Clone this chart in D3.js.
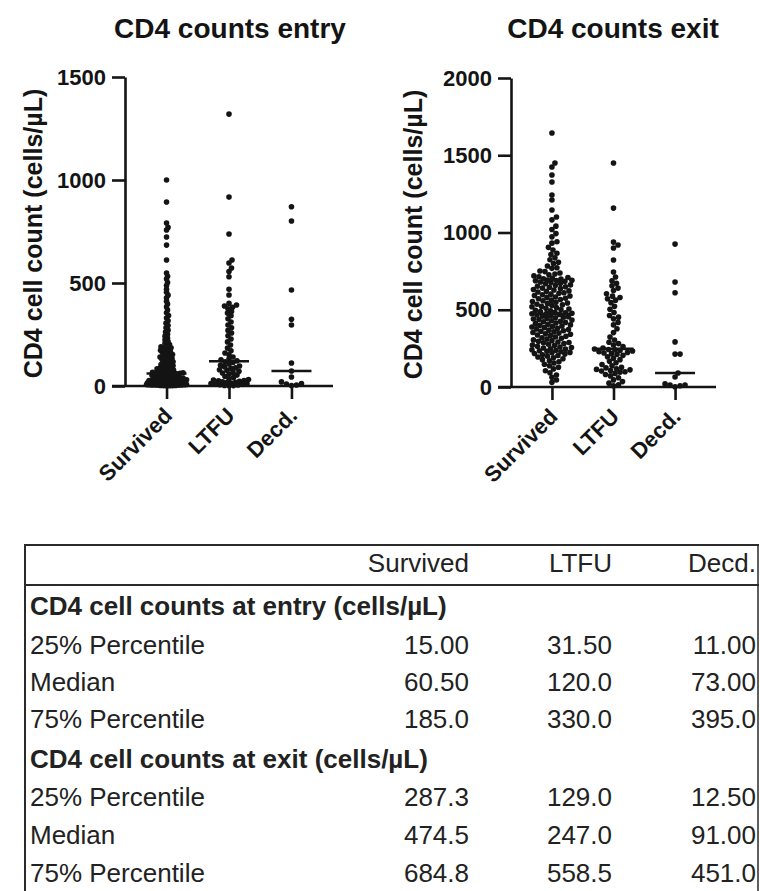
<!DOCTYPE html>
<html><head><meta charset="utf-8">
<script src="https://cdn.jsdelivr.net/npm/d3@7"></script>
<style>html,body{margin:0;padding:0;background:#fff;} svg{display:block;font-family:"Liberation Sans",Arial,Helvetica,sans-serif;}</style>
</head><body><svg id="c" width="760" height="891"></svg>
<script>
const categories = ["Survived", "LTFU", "Decd."];

const entrySurvived = [1000,893,791,770,757,723,684,612,548,533,519,502,488,470,455,441,428,412,398,384,369,355,342,330,317,305,294,283,271,262,251,242,233,224,216,208,201,195,190,186,
182,178,173,169,165,161,157,153,149,145,141,137,133,129,126,122,118,115,111,108,104,101,98,95,92,89,86,83,81,78,76,73,71,69,67,65,64,63,62,61,
60,58,57,55,54,52,51,49,48,46,45,43,42,40,39,38,36,35,34,32,31,30,29,28,27,26,25,24,23,22,21,20,19,19,18,17,17,16,16,15,
15,14,14,13,13,12,12,11,11,10,10,9,9,8,8,7,7,6,6,5,5,5,4,4,3,3,2,2,1,1];
const entryLTFU = [1320,917,738,612,597,573,556,530,470,442,401,393,388,382,375,362,354,341,
326,311,296,283,270,257,244,228,214,199,184,171,160,152,141,131,127,122,
118,114,107,101,97,94,88,86,79,77,71,66,63,58,53,46,41,35,
31,29,27,25,23,20,18,17,14,12,11,10,8,6,5,3,2,1];
const entryDecd = [870,801,466,324,296,112,73,44,20,12,10,5,2];

const exitSurvived = [1644,1450,1424,1372,1327,1243,1210,1146,1100,1082,1041,1019,993,972,940,931,904,887,866,858,836,824,807,799,783,772,768,751,747,738,731,726,719,714,709,703,701,698,693,691,689,688,
684,680,677,671,668,661,659,652,649,646,640,637,631,628,622,619,615,610,606,601,597,592,589,583,580,574,571,566,562,558,553,549,544,541,536,532,527,523,519,514,510,505,501,497,493,489,484,481,477,475,
474,470,466,463,459,455,451,448,444,440,437,433,429,425,422,418,414,410,406,402,399,395,391,388,384,380,376,372,368,364,361,357,353,349,345,341,337,333,328,324,319,315,310,305,300,296,291,288,
286,281,277,272,268,264,259,255,252,248,245,241,238,235,231,228,224,221,217,213,209,204,199,194,189,183,177,170,163,155,147,138,128,117,105,92,78,63,45,30];
const exitLTFU = [1450,1158,938,919,900,822,744,712,688,671,655,640,624,603,588,579,571,562,
546,522,503,482,463,452,441,418,402,377,352,323,304,290,281,272,262,252,
246,243,240,236,233,228,224,220,216,210,205,196,186,177,166,157,146,137,
128,124,118,114,111,106,103,99,96,88,81,72,60,46,35,25,15,8];
const exitDecd = [925,680,610,292,213,213,91,65,20,13,12,8,2];

const entryMedians = [60.5, 120, 73];
const exitMedians = [474.5, 247, 91];
const entryTicks = [0, 500, 1000, 1500];
const exitTicks = [0, 500, 1000, 1500, 2000];

const tableHeader = ["Survived", "LTFU", "Decd."];
const tableRowLabels = ["CD4 cell counts at entry (cells/\u00b5L)", "25% Percentile", "Median", "75% Percentile",
                        "CD4 cell counts at exit (cells/\u00b5L)", "25% Percentile", "Median", "75% Percentile"];
const entryQ1Text = ["15.00", "31.50", "11.00"];
const entryMedText = ["60.50", "120.0", "73.00"];
const entryQ3Text = ["185.0", "330.0", "395.0"];
const exitQ1Text = ["287.3", "129.0", "12.50"];
const exitMedText = ["474.5", "247.0", "91.00"];
const exitQ3Text = ["684.8", "558.5", "451.0"];

const svg = d3.select("#c");
const INK = "#141414";

function swarm(values, cx, y, d, maxW) {
  const pts = values.map(v => ({v, y: y(v)})).sort((a, b) => b.y - a.y);
  const placed = [];
  const cands = [0];
  for (let k = 0.5; k <= maxW; k += 0.5) { cands.push(k, -k); }
  for (const p of pts) {
    let chosen = null, bestX = 0, bestScore = -1;
    for (const off of cands) {
      let md = Infinity;
      for (const q of placed) {
        const dy = q.y - p.y; if (Math.abs(dy) >= d) continue;
        const dx = q.off - off;
        const dd = Math.sqrt(dx*dx + dy*dy);
        if (dd < md) md = dd;
      }
      if (md >= d) { chosen = off; break; }
      if (md > bestScore) { bestScore = md; bestX = off; }
    }
    p.off = chosen === null ? bestX : chosen;
    p.x = cx + p.off;
    placed.push(p);
  }
  return placed;
}

function drawChart(opt) {
  const g = svg.append("g");
  const y = d3.scaleLinear().domain(opt.domain).range([opt.y0, opt.y1]);
  const x = d3.scalePoint().domain(categories).range([opt.axisX, opt.xEnd]).padding(0.665);

  g.append("text").attr("x", opt.titleX).attr("y", 38).attr("text-anchor", "middle")
    .attr("font-size", 28).attr("font-weight", "bold").attr("fill", INK).text(opt.title);

  g.append("text").attr("transform", `translate(${opt.labelX},${(opt.y0 + opt.y1) / 2 + 2}) rotate(-90)`)
    .attr("text-anchor", "middle").attr("dominant-baseline", "central")
    .attr("font-size", 25).attr("font-weight", "bold").attr("fill", INK).text("CD4 cell count (cells/\u00b5L)");

  const ya = g.append("g").attr("transform", `translate(${opt.axisX},0)`)
    .call(d3.axisLeft(y).tickValues(opt.ticks).tickSize(13).tickSizeOuter(0).tickPadding(6).tickFormat(d3.format("d")));
  ya.selectAll("path,line").attr("stroke", INK).attr("stroke-width", 2.6);
  ya.selectAll("text").attr("font-size", 22).attr("font-weight", "bold").attr("fill", INK)
    .attr("font-family", "'Liberation Sans',Arial,Helvetica,sans-serif");

  const xa = g.append("g").attr("transform", `translate(0,${opt.y0})`)
    .call(d3.axisBottom(x).tickSize(13).tickFormat(""));
  xa.select(".domain").remove();
  xa.selectAll("line").attr("stroke", INK).attr("stroke-width", 2.6);
  g.append("line").attr("x1", opt.axisX - 13).attr("x2", opt.xEnd).attr("y1", opt.y0).attr("y2", opt.y0)
    .attr("stroke", INK).attr("stroke-width", 2.6);

  categories.forEach((c, i) => {
    g.append("text").attr("transform", `translate(${x(c) + 7},${opt.y0 + 31}) rotate(-45)`)
      .attr("text-anchor", "end").attr("font-size", 22).attr("font-weight", "bold").attr("fill", INK).text(c);
  });

  opt.series.forEach((vals, i) => {
    const cx = x(categories[i]);
    const pts = swarm(vals, cx, y, opt.gap[i], 20);
    g.append("g").selectAll("circle").data(pts).join("circle")
      .attr("cx", d => d.x).attr("cy", d => d.y).attr("r", 2.8).attr("fill", INK);
    g.append("line").attr("x1", cx - 20).attr("x2", cx + 20)
      .attr("y1", y(opt.medians[i])).attr("y2", y(opt.medians[i]))
      .attr("stroke", INK).attr("stroke-width", 2.6);
  });
}

drawChart({title: "CD4 counts entry", titleX: 230, labelX: 33, domain: [0, 1500], ticks: entryTicks, gap: [3.0, 4.2, 5],
  y0: 386, y1: 77, axisX: 125, xEnd: 333, series: [entrySurvived, entryLTFU, entryDecd], medians: entryMedians});
drawChart({title: "CD4 counts exit", titleX: 613, labelX: 413, domain: [0, 2000], ticks: exitTicks, gap: [4.9, 5, 5],
  y0: 387, y1: 78, axisX: 511, xEnd: 716, series: [exitSurvived, exitLTFU, exitDecd], medians: exitMedians});

const tb = svg.append("g");
const colRight = [469, 612, 756];
const border = "#2a2a2a";
tb.append("line").attr("x1", 25).attr("x2", 759).attr("y1", 545).attr("y2", 545).attr("stroke", border).attr("stroke-width", 2);
tb.append("line").attr("x1", 25).attr("x2", 759).attr("y1", 585).attr("y2", 585).attr("stroke", border).attr("stroke-width", 2);
tb.append("line").attr("x1", 25).attr("x2", 25).attr("y1", 544).attr("y2", 891).attr("stroke", border).attr("stroke-width", 2);
tb.append("line").attr("x1", 758).attr("x2", 758).attr("y1", 544).attr("y2", 891).attr("stroke", border).attr("stroke-width", 1.5);

tableHeader.forEach((h, i) => {
  tb.append("text").attr("x", colRight[i]).attr("y", 572).attr("text-anchor", "end")
    .attr("font-size", 26).attr("fill", "#222").text(h);
});
const rowY = [615, 654, 691, 728, 768, 806, 844, 882];
const rowVals = [null, entryQ1Text, entryMedText, entryQ3Text, null, exitQ1Text, exitMedText, exitQ3Text];
tableRowLabels.forEach((lab, r) => {
  const bold = rowVals[r] === null;
  tb.append("text").attr("x", 30).attr("y", rowY[r]).attr("font-size", 26)
    .attr("font-weight", bold ? "bold" : "normal").attr("fill", "#222").text(lab);
  if (!bold) {
    rowVals[r].forEach((v, i) => {
      tb.append("text").attr("x", colRight[i]).attr("y", rowY[r]).attr("text-anchor", "end")
        .attr("font-size", 26).attr("fill", "#222").text(v);
    });
  }
});
</script></body></html>
